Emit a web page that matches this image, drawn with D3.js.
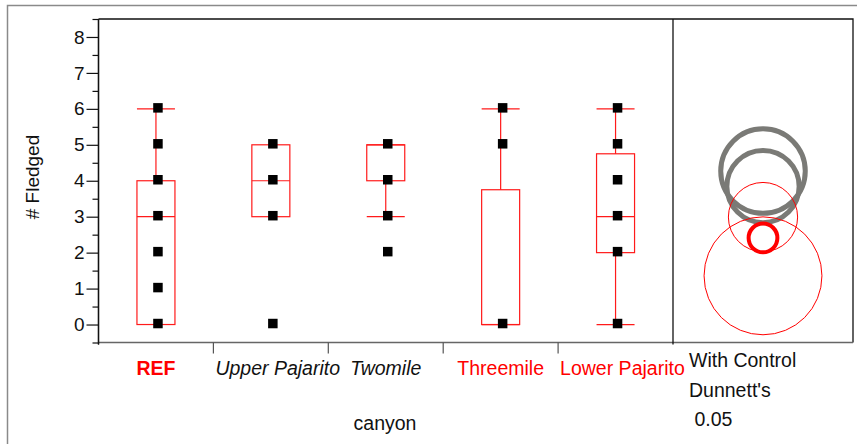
<!DOCTYPE html>
<html>
<head>
<meta charset="utf-8">
<script src="https://cdn.jsdelivr.net/npm/d3@7"></script>
<style>
  body { margin: 0; background: #fff; }
  svg text { font-family: "Liberation Sans", Arial, sans-serif; }
</style>
</head>
<body>
<div id="chart-area"></div>
<script>
// data
var canyons = ["REF", "Upper Pajarito", "Twomile", "Threemile", "Lower Pajarito"];
var fledged = [
    [0, 1, 2, 3, 4, 5, 6],
    [0, 3, 4, 5],
    [2, 3, 4, 5],
    [0, 5, 6],
    [0, 2, 3, 4, 5, 6]
];
var q1 = [0, 3, 4, 0, 2];
var median = [3, 4, 5, 0, 3];
var q3 = [4, 5, 5, 3.75, 4.75];
var whiskerLow = [0, 3, 3, 0, 0];
var whiskerHigh = [6, 5, 5, 6, 6];
var labelStyle = ["bold", "italic", "italic", "normal", "normal"];
var labelColor = ["red", "black", "black", "red", "red"];
var yTicks = [0, 1, 2, 3, 4, 5, 6, 7, 8];

// comparison circles (Dunnett's with control)
var circleGroups = ["Twomile", "Upper Pajarito", "Lower Pajarito", "REF", "Threemile"];
var circleMeans = [4.27, 3.84, 2.99, 2.41, 1.355];
var circleRadii = [1.176, 1.005, 0.963, 0.40, 1.64];
var circleColor = ["#7a7a76", "#7a7a76", "red", "red", "red"];
var circleWidth = [5, 5, 1, 4, 1];

var width = 857, height = 444;
var pLeft = 98.5, pRight = 673, pTop = 19, pBottom = 342.5, panelRight = 853;

var svg = d3.select("#chart-area").append("svg")
    .attr("width", width)
    .attr("height", height);

// outer frame
svg.append("path")
    .attr("d", "M7.5,444 V5.5 H857")
    .attr("fill", "none")
    .attr("stroke", "#8a8a8a")
    .attr("stroke-width", 1.5);

var y = d3.scaleLinear().domain([-0.5, 8.5]).range([pBottom, pTop]);
var x = d3.scaleBand().domain(canyons).range([pLeft, pRight]).padding(0);
var boxW = 38;

// frame of the plot and the circle panel
svg.append("path")
    .attr("d", "M" + pLeft + "," + pTop + " H" + panelRight + " V" + pBottom)
    .attr("fill", "none").attr("stroke", "#111").attr("stroke-width", 1.3);
svg.append("line")
    .attr("x1", pLeft).attr("x2", panelRight).attr("y1", pBottom).attr("y2", pBottom)
    .attr("stroke", "#666").attr("stroke-width", 1.5);
svg.append("line")
    .attr("x1", pRight).attr("x2", pRight).attr("y1", pTop).attr("y2", pBottom + 2)
    .attr("stroke", "#111").attr("stroke-width", 1.3);

// y axis: major ticks + minor half ticks
var minor = d3.range(-0.5, 8.6, 1);
var gy = svg.append("g").attr("transform", "translate(" + pLeft + ",0)");
gy.call(d3.axisLeft(y).tickValues(minor).tickSize(6).tickFormat(""));
gy.append("g").call(d3.axisLeft(y).tickValues(yTicks).tickSize(12).tickPadding(2));
gy.selectAll(".domain").attr("stroke", "#111").attr("stroke-width", 1.3)
    .attr("d", "M0," + (pBottom + 2) + "V" + pTop);
gy.selectAll(".tick line").attr("stroke", "#111").attr("stroke-width", 1.2);
gy.selectAll(".tick text")
    .attr("font-size", "19px")
    .attr("fill", "#111")
    .attr("font-family", "Liberation Sans, Arial, sans-serif");

// x axis separators
svg.selectAll(".xsep").data(canyons.slice(1))
    .enter().append("line")
    .attr("class", "xsep")
    .attr("x1", function(d) { return x(d); })
    .attr("x2", function(d) { return x(d); })
    .attr("y1", pBottom).attr("y2", pBottom + 11)
    .attr("stroke", "#555").attr("stroke-width", 1.2);

// boxes
var groups = svg.selectAll(".grp").data(canyons).enter().append("g").attr("class", "grp");
groups.each(function(d, i) {
    var g = d3.select(this);
    var cx = x(d) + x.bandwidth() / 2;
    var x0 = cx - boxW / 2;
    var red = "#ff1a1a";
    g.append("rect")
        .attr("x", x0).attr("y", y(q3[i]))
        .attr("width", boxW).attr("height", y(q1[i]) - y(q3[i]))
        .attr("fill", "none").attr("stroke", red).attr("stroke-width", 1.2);
    g.append("line")
        .attr("x1", x0).attr("x2", x0 + boxW)
        .attr("y1", y(median[i])).attr("y2", y(median[i]))
        .attr("stroke", red).attr("stroke-width", 1.2);
    if (whiskerHigh[i] > q3[i]) {
        g.append("line").attr("x1", cx).attr("x2", cx)
            .attr("y1", y(q3[i])).attr("y2", y(whiskerHigh[i]))
            .attr("stroke", red).attr("stroke-width", 1.2);
        g.append("line").attr("x1", x0).attr("x2", x0 + boxW)
            .attr("y1", y(whiskerHigh[i])).attr("y2", y(whiskerHigh[i]))
            .attr("stroke", red).attr("stroke-width", 1.2);
    }
    if (whiskerLow[i] < q1[i]) {
        g.append("line").attr("x1", cx).attr("x2", cx)
            .attr("y1", y(q1[i])).attr("y2", y(whiskerLow[i]))
            .attr("stroke", red).attr("stroke-width", 1.2);
        g.append("line").attr("x1", x0).attr("x2", x0 + boxW)
            .attr("y1", y(whiskerLow[i])).attr("y2", y(whiskerLow[i]))
            .attr("stroke", red).attr("stroke-width", 1.2);
    }
    g.selectAll(".pt").data(fledged[i]).enter().append("rect")
        .attr("class", "pt")
        .attr("x", cx + 2 - 4.75)
        .attr("y", function(v) { return y(v) - 5.75; })
        .attr("width", 9.5).attr("height", 9.5)
        .attr("fill", "#000");
});

// category labels
svg.selectAll(".xlab").data(canyons).enter().append("text")
    .attr("class", "xlab")
    .attr("y", 375)
    .attr("font-size", "19.5px")
    .attr("font-weight", function(d, i) { return labelStyle[i] == "bold" ? "bold" : "normal"; })
    .attr("font-style", function(d, i) { return labelStyle[i] == "italic" ? "italic" : "normal"; })
    .attr("fill", function(d, i) { return labelColor[i] == "red" ? "#ff0000" : "#111"; })
    .text(function(d) { return d; })
    .attr("x", function(d) {
        var w = this.getComputedTextLength();
        var c = x(d) + x.bandwidth() / 2;
        return Math.max(c - w / 2, x(d) + 2);
    });

svg.append("text")
    .attr("x", 385).attr("y", 430)
    .attr("text-anchor", "middle")
    .attr("font-size", "19.5px").attr("fill", "#111")
    .text("canyon");

svg.append("text")
    .attr("transform", "translate(39," + 177 + ") rotate(-90)")
    .attr("text-anchor", "middle")
    .attr("font-size", "19px").attr("fill", "#111")
    .text("# Fledged");

// comparison circles
var ccx = (pRight + panelRight) / 2;
var unit = y(0) - y(1);
svg.selectAll(".cmp").data(circleMeans).enter().append("circle")
    .attr("class", "cmp")
    .attr("cx", ccx)
    .attr("cy", function(d) { return y(d); })
    .attr("r", function(d, i) { return circleRadii[i] * unit; })
    .attr("fill", "none")
    .attr("stroke", function(d, i) { return circleColor[i]; })
    .attr("stroke-width", function(d, i) { return circleWidth[i]; });

var notes = ["With Control", "Dunnett's", " 0.05"];
svg.selectAll(".note").data(notes).enter().append("text")
    .attr("class", "note")
    .attr("x", 689)
    .attr("y", function(d, i) { return 367 + i * 29.5; })
    .attr("font-size", "19.5px").attr("fill", "#111")
    .style("white-space", "pre")
    .text(function(d) { return d; });
</script>
</body>
</html>
